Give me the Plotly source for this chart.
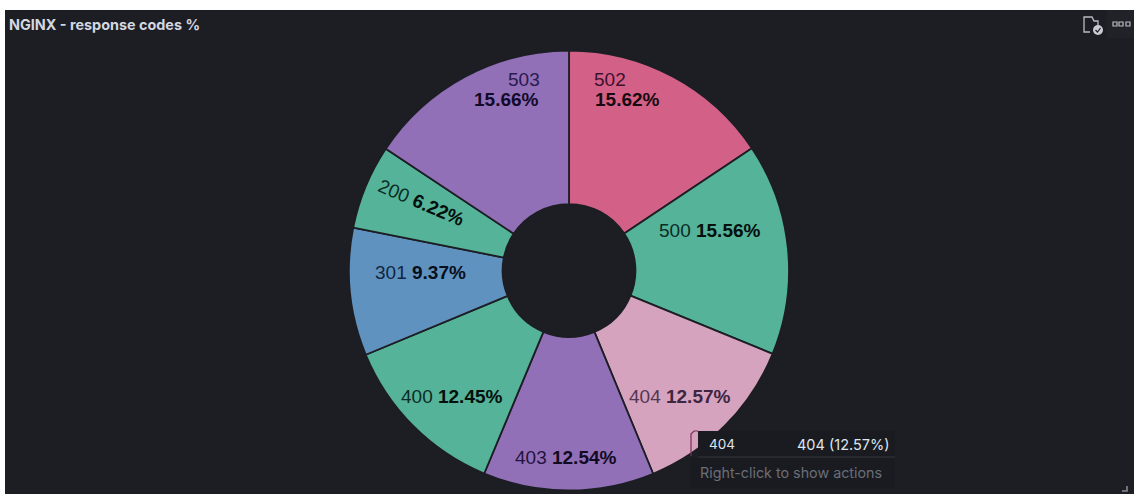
import plotly.graph_objects as go

W, H = 1134, 494
BG = "#1D1E24"

codes = ["502", "500", "404", "403", "400", "301", "200", "503"]
shares = [15.62, 15.56, 12.57, 12.54, 12.45, 9.37, 6.22, 15.66]
colors = ["#D36086", "#54B399", "#D6A3BF", "#9170B8", "#54B399", "#6092C0", "#54B399", "#9170B8"]
# text tint per slice: (code, share)
text_tints = [("#3E1030", "#160A10"), ("#0C2C25", "#050F0C"), ("#523652", "#3E2540"),
              ("#25133F", "#120A22"), ("#0C2C25", "#050F0C"), ("#102640", "#070F1C"),
              ("#0C2C25", "#050F0C"), ("#2B1A4E", "#120A28")]

fig = go.Figure(
    go.Pie(
        labels=codes,
        values=shares,
        textinfo="none",
        hole=0.302,
        sort=False,
        direction="clockwise",
        rotation=0,
        marker=dict(colors=colors, line=dict(color=BG, width=1.8)),
        showlegend=False,
        hoverinfo="skip",
        domain=dict(x=[349 / W, 789 / W], y=[3 / H, 444 / H]),
    )
)


def px_rect(x0, y0, x1, y1, **kw):
    fig.add_shape(type="rect", xref="paper", yref="paper", x0=x0 / W, x1=x1 / W,
                  y0=1 - y0 / H, y1=1 - y1 / H, **kw)


def px_text(x, y, text, size, color, anchor="left", family="Inter", angle=0):
    fig.add_annotation(xref="paper", yref="paper", x=x / W, y=1 - y / H, text=text,
                       showarrow=False, xanchor=anchor, yanchor="middle", textangle=angle,
                       borderpad=0, borderwidth=0,
                       font=dict(family=family, size=size, color=color))


def px_path(points, **kw):
    d = " L ".join(f"{x / W} {1 - y / H}" for x, y in points)
    fig.add_shape(type="path", xref="paper", yref="paper", path="M " + d, **kw)


# panel
px_rect(5, 10, W, H, fillcolor=BG, line_width=0, layer="below")
px_rect(1107, 10, W, 38, fillcolor="#212228", line_width=0, layer="below")

# slice labels, placed where the reference has them
LABEL_FONT = "Liberation Sans"
for i, (x, y, angle) in {1: (709.5, 230, 0), 2: (679.5, 396, 0), 3: (565.5, 457, 0),
                         4: (451.5, 396, 0), 5: (420.5, 272, 0), 6: (421, 202, 23)}.items():
    tint, strong = text_tints[i]
    px_text(x, y, f"{codes[i]} <span style='color:{strong}'><b>{shares[i]:.2f}%</b></span>",
            19, tint, anchor="center", family=LABEL_FONT, angle=angle)

# the two wide slices wrap onto two lines
px_text(594, 79, codes[0], 19, text_tints[0][0], family=LABEL_FONT)
px_text(595, 99, f"<b>{shares[0]:.2f}%</b>", 19, text_tints[0][1], family=LABEL_FONT)
px_text(540, 79, codes[7], 19, text_tints[7][0], anchor="right", family=LABEL_FONT)
px_text(539, 99, f"<b>{shares[7]:.2f}%</b>", 19, text_tints[7][1], anchor="right", family=LABEL_FONT)

# tooltip
px_rect(698, 431, 895, 457, fillcolor="#1A1B20", line_width=0)
px_rect(690, 457, 895, 488, fillcolor="#1A1B20", line_width=0)
px_path([(691, 456), (691, 434), (694, 431), (698, 431)], line=dict(color="#7A2F55", width=1.2))
px_path([(698, 457), (895, 457)], line=dict(color="#34353C", width=1))
px_text(709, 444, "404", 13.5, "#DFE5EF")
px_text(890, 444, "404 (12.57%)", 14.5, "#DFE5EF", anchor="right")
px_text(700, 473, "Right-click to show actions", 14.3, "#6A6E78")

# title
px_text(9, 25, "<b>NGINX - response codes %</b>", 14.4, "#D3D8E0")

# panel icons
px_path([(1090, 32), (1084, 32), (1084, 17), (1092, 17), (1094, 21), (1098, 21), (1098, 25)],
        line=dict(color="#B8BCC4", width=1.3))
fig.add_shape(type="circle", xref="paper", yref="paper", x0=1093 / W, x1=1103 / W,
              y0=1 - 35 / H, y1=1 - 25 / H, fillcolor="#C9CCD2", line_width=0)
px_path([(1095.5, 30), (1097.5, 32), (1100.5, 28)], line=dict(color=BG, width=1.2))
for x in (1113, 1119, 1126):
    px_rect(x, 22, x + 4, 26, line=dict(color="#B8BCC4", width=1.2))
px_path([(1122, 491), (1127, 491), (1127, 486)], line=dict(color="#8A8D96", width=1.5))

fig.update_layout(
    width=W,
    height=H,
    margin=dict(l=0, r=0, t=0, b=0),
    paper_bgcolor="white",
)

fig.write_html("out.html", config={"displayModeBar": False},
               post_script="document.body.style.margin='0';")
